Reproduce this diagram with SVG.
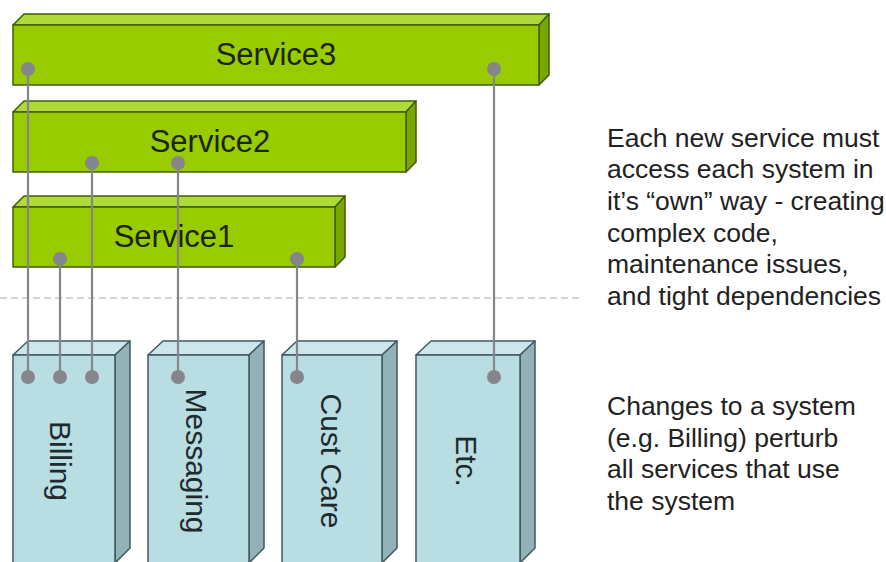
<svg xmlns="http://www.w3.org/2000/svg" width="886" height="562" viewBox="0 0 886 562">
<style>
.sf{fill:#99cc00;stroke:#3f5e00;stroke-width:1.5;stroke-linejoin:round}
.st{fill:#b0d93a;stroke:#3f5e00;stroke-width:1.5;stroke-linejoin:round}
.ss{fill:#7aa600;stroke:#3f5e00;stroke-width:1.5;stroke-linejoin:round}
.bf{fill:#b8dde2;stroke:#3e5a60;stroke-width:1.5;stroke-linejoin:round}
.bt{fill:#cce7eb;stroke:#3e5a60;stroke-width:1.5;stroke-linejoin:round}
.bs{fill:#93b2b7;stroke:#3e5a60;stroke-width:1.5;stroke-linejoin:round}
.lbl{font-family:"Liberation Sans",Arial,sans-serif;font-size:31px;fill:#1a2400;text-anchor:middle}
.sl{font-family:"Liberation Sans",Arial,sans-serif;font-size:30px;fill:#1e2a2c;text-anchor:middle}
.note{font-family:"Liberation Sans",Arial,sans-serif;font-size:26.5px;fill:#222}
.ln{stroke:#85858c;stroke-width:2.2;fill:none}
.dot{fill:#85858c}
</style>
<rect width="886" height="562" fill="#ffffff"/>
<line x1="0" y1="298" x2="580" y2="298" stroke="#c8c8c8" stroke-width="1.5" stroke-dasharray="7,4"/>

<g id="service3">
<polygon class="st" points="13,25 24,14 549,14 539,25"/>
<polygon class="ss" points="539,25 549,14 549,75 539,85"/>
<rect class="sf" x="13" y="25" width="526" height="60"/>
<text class="lbl" x="276" y="65">Service3</text>
</g>
<g id="service2">
<polygon class="st" points="13,112 24,101 416,101 406,112"/>
<polygon class="ss" points="406,112 416,101 416,162 406,172"/>
<rect class="sf" x="13" y="112" width="393" height="60"/>
<text class="lbl" x="210" y="152">Service2</text>
</g>
<g id="service1">
<polygon class="st" points="13,207 24,196 345,196 335,207"/>
<polygon class="ss" points="335,207 345,196 345,257 335,267"/>
<rect class="sf" x="13" y="207" width="322" height="60"/>
<text class="lbl" x="174" y="247">Service1</text>
</g>

<g id="billing">
<polygon class="bt" points="13,355 28,341 130,341 115,355"/>
<polygon class="bs" points="115,355 130,341 130,548 115,563"/>
<rect class="bf" x="13" y="355" width="102" height="210"/>
<text class="sl" transform="translate(50,461) rotate(90)">Billing</text>
</g>
<g id="messaging">
<polygon class="bt" points="148,355 163,341 264,341 249,355"/>
<polygon class="bs" points="249,355 264,341 264,548 249,563"/>
<rect class="bf" x="148" y="355" width="101" height="210"/>
<text class="sl" transform="translate(186,461) rotate(90)">Messaging</text>
</g>
<g id="custcare">
<polygon class="bt" points="282,355 297,341 397,341 382,355"/>
<polygon class="bs" points="382,355 397,341 397,548 382,563"/>
<rect class="bf" x="282" y="355" width="100" height="210"/>
<text class="sl" transform="translate(321,461) rotate(90)">Cust Care</text>
</g>
<g id="etc">
<polygon class="bt" points="416,355 431,341 535,341 520,355"/>
<polygon class="bs" points="520,355 535,341 535,548 520,563"/>
<rect class="bf" x="416" y="355" width="104" height="210"/>
<text class="sl" transform="translate(456,461) rotate(90)">Etc.</text>
</g>

<g id="connectors">
<line class="ln" x1="28" y1="69" x2="28" y2="377"/>
<line class="ln" x1="60" y1="259" x2="60" y2="377"/>
<line class="ln" x1="92" y1="163" x2="92" y2="377"/>
<line class="ln" x1="178" y1="163" x2="178" y2="377"/>
<line class="ln" x1="297" y1="259" x2="297" y2="377"/>
<line class="ln" x1="494" y1="69" x2="494" y2="377"/>
<circle class="dot" cx="28" cy="69" r="7"/>
<circle class="dot" cx="494" cy="69" r="7"/>
<circle class="dot" cx="92" cy="163" r="7"/>
<circle class="dot" cx="178" cy="163" r="7"/>
<circle class="dot" cx="60" cy="259" r="7"/>
<circle class="dot" cx="297" cy="259" r="7"/>
<circle class="dot" cx="28" cy="377" r="7"/>
<circle class="dot" cx="60" cy="377" r="7"/>
<circle class="dot" cx="92" cy="377" r="7"/>
<circle class="dot" cx="178" cy="377" r="7"/>
<circle class="dot" cx="297" cy="377" r="7"/>
<circle class="dot" cx="494" cy="377" r="7"/>
</g>

<g id="note1">
<text class="note" x="607" y="147">Each new service must</text>
<text class="note" x="607" y="178">access each system in</text>
<text class="note" x="607" y="210">it’s “own” way - creating</text>
<text class="note" x="607" y="242">complex code,</text>
<text class="note" x="607" y="273">maintenance issues,</text>
<text class="note" x="607" y="305">and tight dependencies</text>
</g>
<g id="note2">
<text class="note" x="607" y="415">Changes to a system</text>
<text class="note" x="607" y="447">(e.g. Billing) perturb</text>
<text class="note" x="607" y="478">all services that use</text>
<text class="note" x="607" y="510">the system</text>
</g>
</svg>
